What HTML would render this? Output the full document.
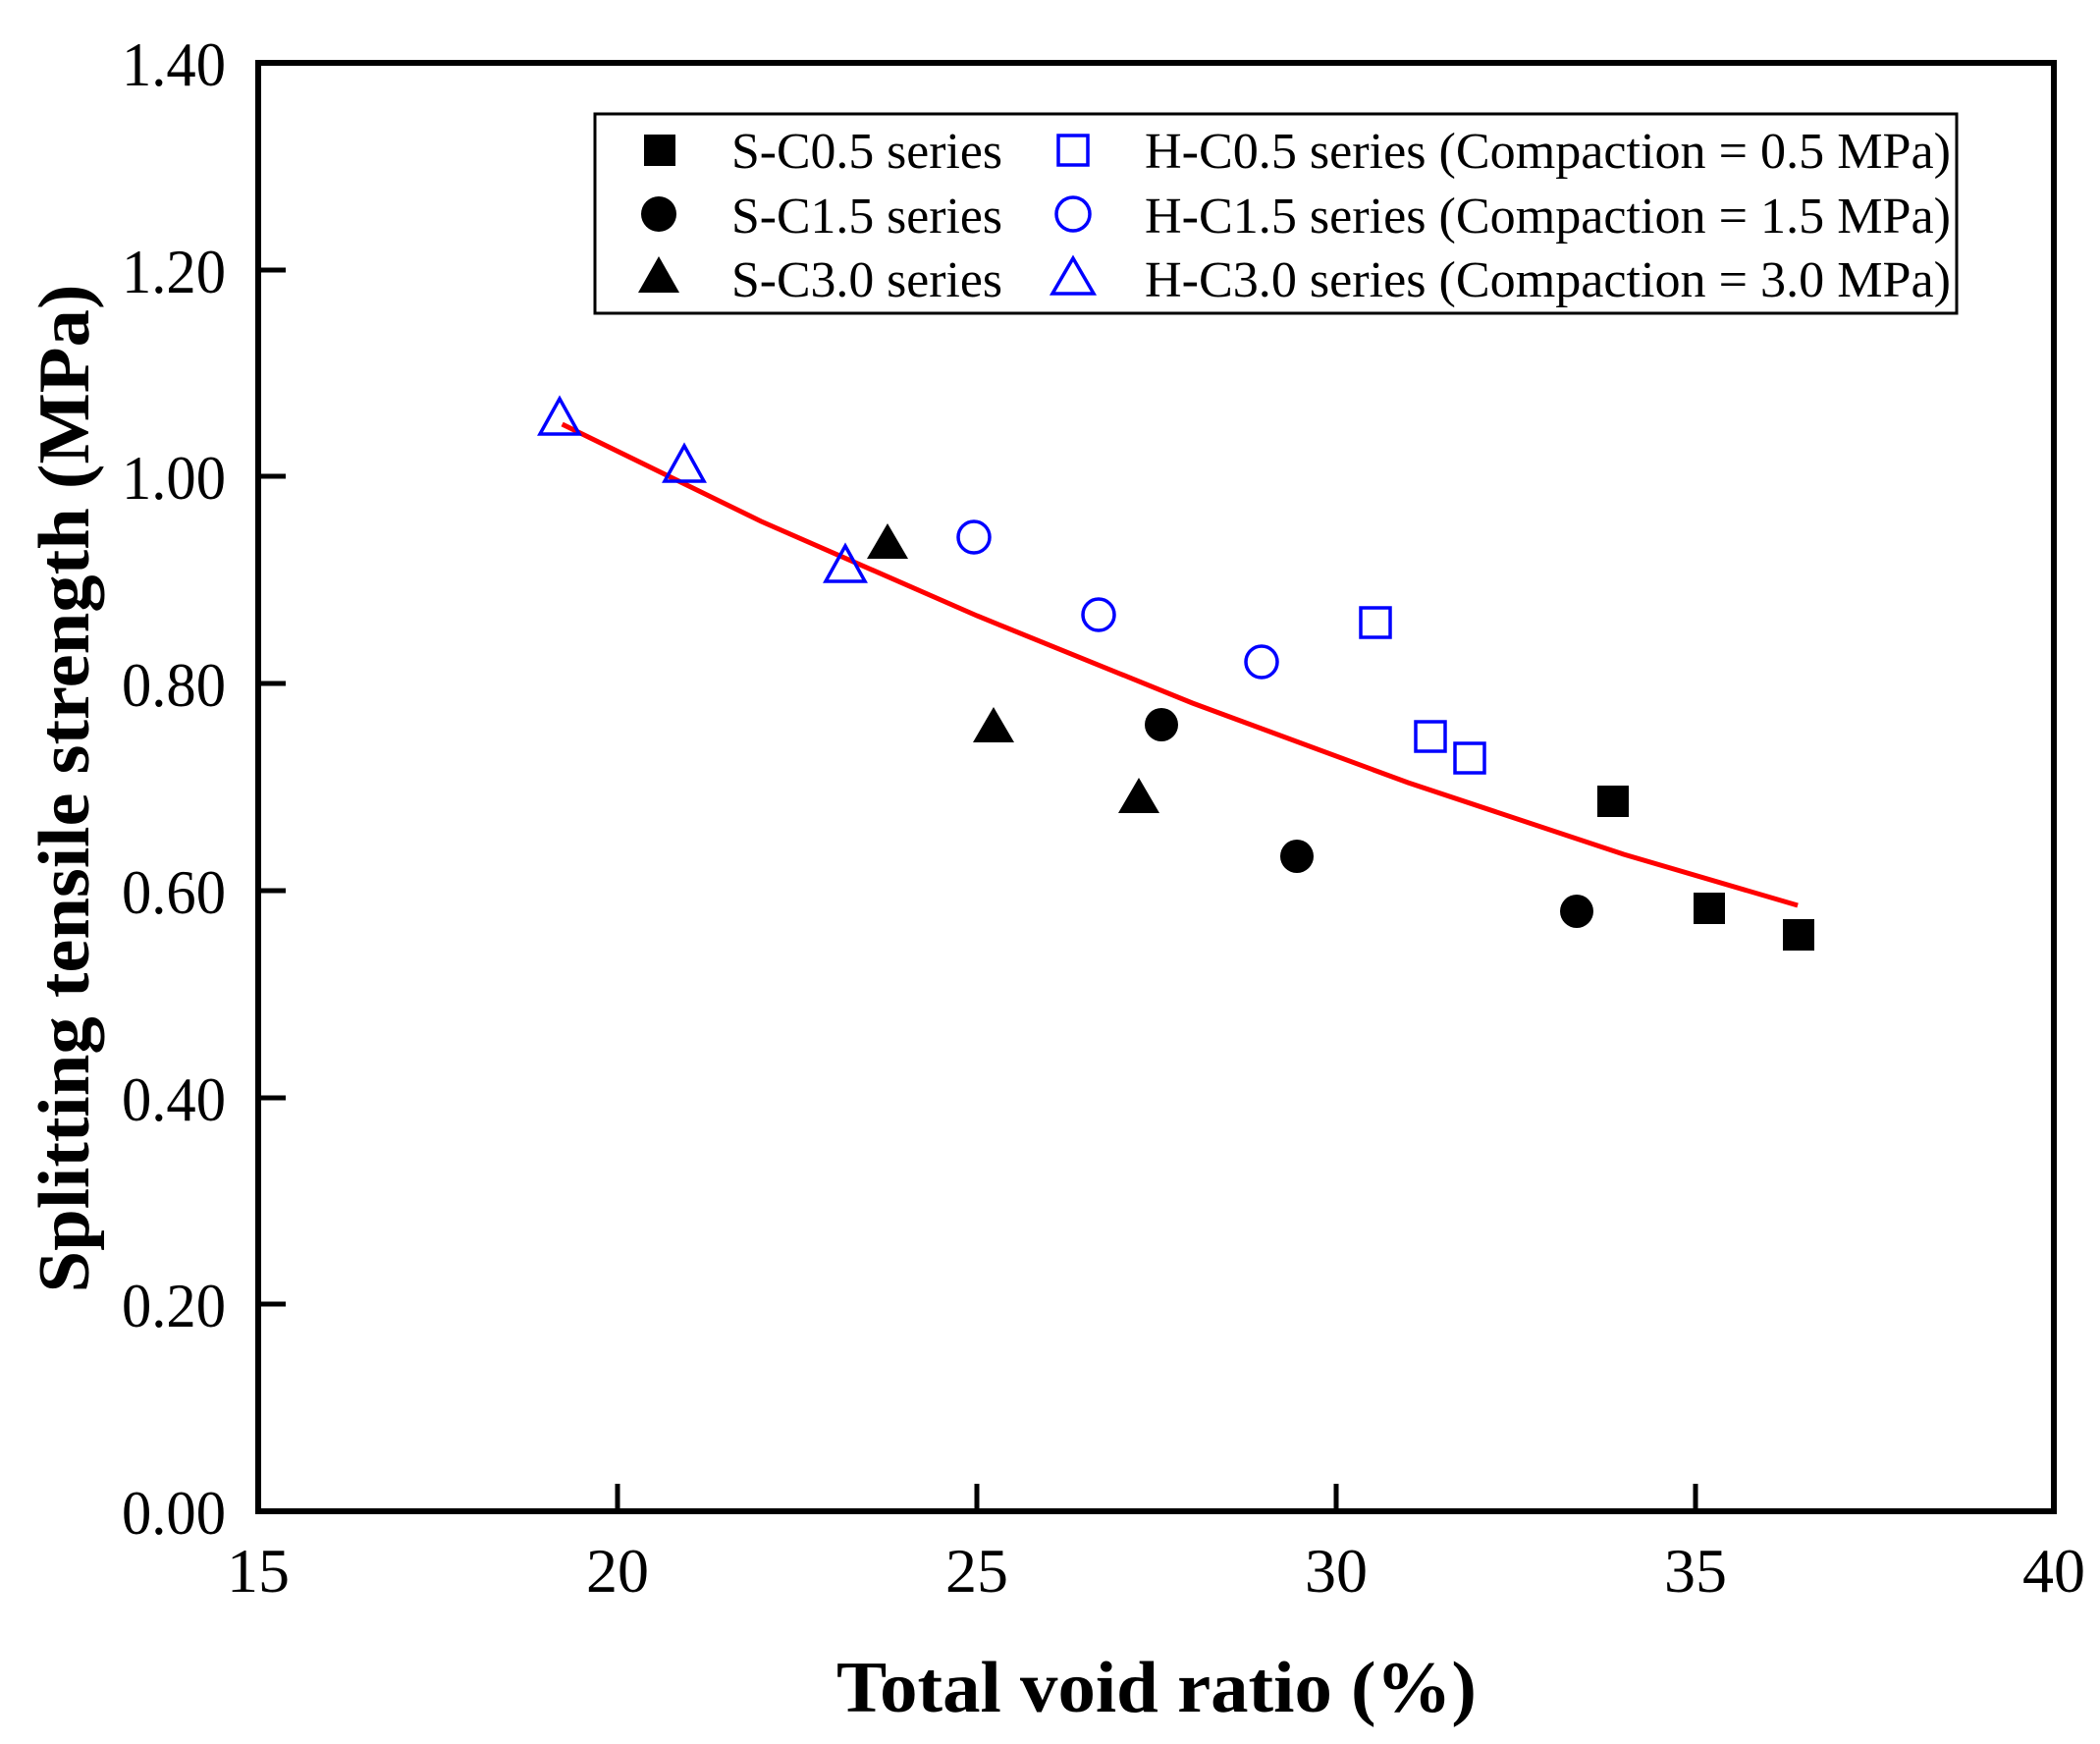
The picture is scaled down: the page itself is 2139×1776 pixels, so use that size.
<!DOCTYPE html>
<html><head><meta charset="utf-8"><style>html,body{margin:0;padding:0;background:#fff}svg{display:block}</style></head>
<body>
<svg width="2139" height="1776" viewBox="0 0 2139 1776" xmlns="http://www.w3.org/2000/svg" font-family="Liberation Serif, serif">
<rect width="2139" height="1776" fill="#fff"/>
<rect x="263" y="64" width="1829" height="1475" fill="none" stroke="#000" stroke-width="6"/>
<g stroke="#000" stroke-width="5">
<line x1="629" y1="1539" x2="629" y2="1511"/>
<line x1="995" y1="1539" x2="995" y2="1511"/>
<line x1="1361" y1="1539" x2="1361" y2="1511"/>
<line x1="1727" y1="1539" x2="1727" y2="1511"/>
<line x1="263" y1="1328" x2="291" y2="1328"/>
<line x1="263" y1="1118" x2="291" y2="1118"/>
<line x1="263" y1="907" x2="291" y2="907"/>
<line x1="263" y1="696" x2="291" y2="696"/>
<line x1="263" y1="485" x2="291" y2="485"/>
<line x1="263" y1="275" x2="291" y2="275"/>
</g>
<g font-size="64" text-anchor="end">
<text x="230" y="1562" textLength="106" lengthAdjust="spacingAndGlyphs">0.00</text>
<text x="230" y="1351" textLength="106" lengthAdjust="spacingAndGlyphs">0.20</text>
<text x="230" y="1141" textLength="106" lengthAdjust="spacingAndGlyphs">0.40</text>
<text x="230" y="930" textLength="106" lengthAdjust="spacingAndGlyphs">0.60</text>
<text x="230" y="719" textLength="106" lengthAdjust="spacingAndGlyphs">0.80</text>
<text x="230" y="508" textLength="106" lengthAdjust="spacingAndGlyphs">1.00</text>
<text x="230" y="298" textLength="106" lengthAdjust="spacingAndGlyphs">1.20</text>
<text x="230" y="87" textLength="106" lengthAdjust="spacingAndGlyphs">1.40</text>
</g>
<g font-size="64" text-anchor="middle">
<text x="263" y="1621">15</text>
<text x="629" y="1621">20</text>
<text x="995" y="1621">25</text>
<text x="1361" y="1621">30</text>
<text x="1727" y="1621">35</text>
<text x="2092" y="1621">40</text>
</g>
<text x="1178" y="1743" font-size="74" font-weight="bold" text-anchor="middle" textLength="652" lengthAdjust="spacingAndGlyphs">Total void ratio (%)</text>
<text transform="translate(90,803) rotate(-90)" font-size="74" font-weight="bold" text-anchor="middle" textLength="1027" lengthAdjust="spacingAndGlyphs">Splitting tensile strength (MPa)</text>
<polyline fill="none" stroke="#f00" stroke-width="5" points="572.6,432 775.4,531 995,627 1214.6,716 1434.2,797 1653.8,870 1831.1,922"/>
<g fill="#000">
<rect x="1627" y="800" width="32" height="32"/>
<rect x="1725" y="909" width="32" height="32"/>
<rect x="1816" y="936" width="32" height="32"/>
<circle cx="1183" cy="738" r="17"/>
<circle cx="1321" cy="872" r="17"/>
<circle cx="1606" cy="928" r="17"/>
<polygon points="904,533 925,569 883,569"/>
<polygon points="1012,720 1033,756 991,756"/>
<polygon points="1160,792 1181,828 1139,828"/>
</g>
<g fill="none" stroke="#00f" stroke-width="3.5">
<rect x="1386" y="619" width="30" height="30"/>
<rect x="1442" y="735" width="30" height="30"/>
<rect x="1482" y="757" width="30" height="30"/>
<circle cx="992" cy="547" r="16"/>
<circle cx="1119" cy="626" r="16"/>
<circle cx="1285" cy="674" r="16"/>
<polygon points="570,406 590,442 550,442"/>
<polygon points="697,454 717,490 677,490"/>
<polygon points="861,556 881,592 841,592"/>
</g>
<rect x="606" y="116" width="1387" height="203" fill="#fff" stroke="#000" stroke-width="3"/>
<g fill="#000">
<rect x="656" y="137" width="32" height="32"/>
<circle cx="671" cy="218" r="18"/>
<polygon points="671,261 692,298 650,298"/>
</g>
<g fill="none" stroke="#00f" stroke-width="3.5">
<rect x="1078" y="138" width="30" height="30"/>
<circle cx="1093" cy="218" r="17"/>
<polygon points="1093,263 1114,299 1072,299"/>
</g>
<g font-size="52">
<text x="745" y="171" textLength="276" lengthAdjust="spacingAndGlyphs">S-C0.5 series</text>
<text x="745" y="237" textLength="276" lengthAdjust="spacingAndGlyphs">S-C1.5 series</text>
<text x="745" y="302" textLength="276" lengthAdjust="spacingAndGlyphs">S-C3.0 series</text>
<text x="1166" y="171" textLength="821" lengthAdjust="spacingAndGlyphs">H-C0.5 series (Compaction = 0.5 MPa)</text>
<text x="1166" y="237" textLength="821" lengthAdjust="spacingAndGlyphs">H-C1.5 series (Compaction = 1.5 MPa)</text>
<text x="1166" y="302" textLength="821" lengthAdjust="spacingAndGlyphs">H-C3.0 series (Compaction = 3.0 MPa)</text>
</g>
</svg>
</body></html>
